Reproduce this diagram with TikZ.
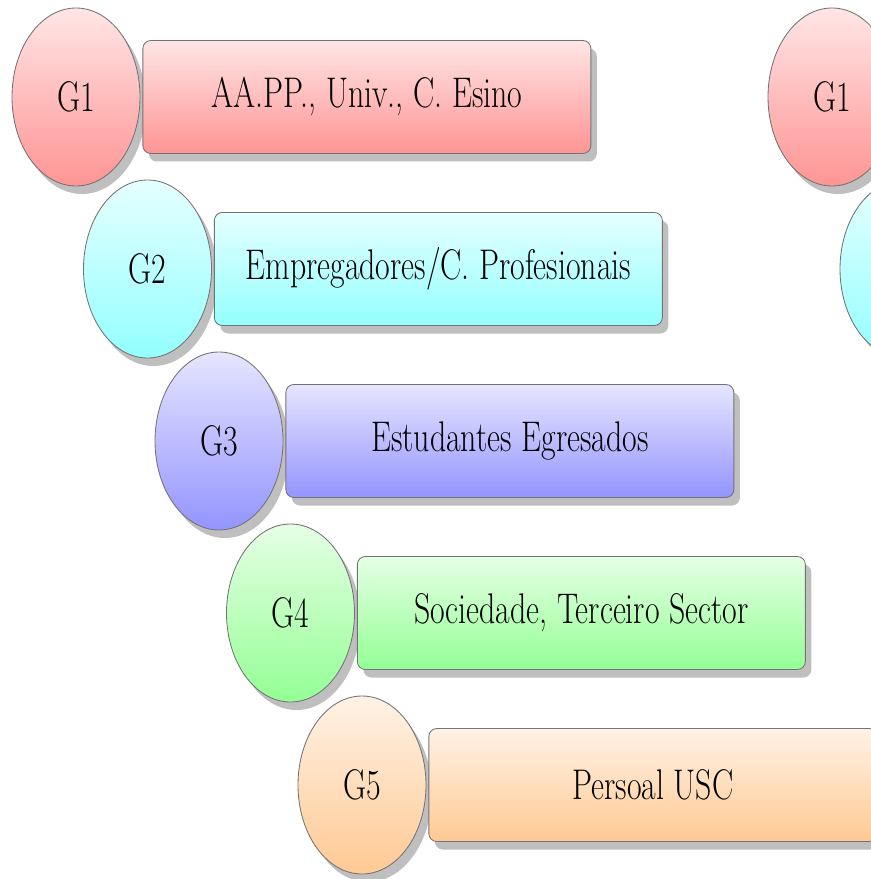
\documentclass[tikz,border=0pt]{standalone}
\usepackage{graphicx}
\usetikzlibrary{shapes.geometric,shadows,positioning}

% stretched text, as on the slide
\newcommand{\estirar}[1]{\scalebox{1}[1.35]{#1}}

\tikzset{
  sombra/.style={drop shadow={shadow xshift=0.15cm,shadow yshift=-0.2cm,fill=black!25,opacity=1}},
  grupo/.style={ellipse,draw=black!55,line width=0.6pt,minimum width=3.2cm,minimum height=4.45cm,
    inner sep=0pt,top color=#1!10,bottom color=#1!42,sombra},
  caixa/.style={rectangle,rounded corners=0.2cm,draw=black!55,line width=0.6pt,minimum width=11.2cm,
    minimum height=2.825cm,inner sep=0pt,top color=#1!10,bottom color=#1!42,sombra}
}

\begin{document}
\begin{tikzpicture}[font=\fontsize{22.6}{26}\selectfont]
        % frame of the slide
        \useasboundingbox (0,0) rectangle (21.775,-21.975);
        \clip (0,0) rectangle (21.775,-21.975);
        % draw groups and boxes
        \foreach \i/\cor/\texto in {1/red/{AA.PP., Univ., C. Esino},
                2/cyan/{Empregadores/C. Profesionais},
                3/blue/{Estudantes Egresados},
                4/green/{Sociedade, Terceiro Sector},
                5/orange/{Persoal USC}}
        {
        \node[grupo=\cor] (g\i) at ({1.9+1.7875*(\i-1)},{-2.425-4.3*(\i-1)}) {\estirar{G\i}};
        \node[caixa=\cor,right=0.05cm of g\i] (c\i) {\estirar{\texto}};
        }
        % next column, cut by the frame
        \node[grupo=red] (h1) at (20.8,-2.425) {\estirar{G1}};
        \node[grupo=cyan] (h2) at (22.6,-6.725) {};
\end{tikzpicture}
\end{document}
